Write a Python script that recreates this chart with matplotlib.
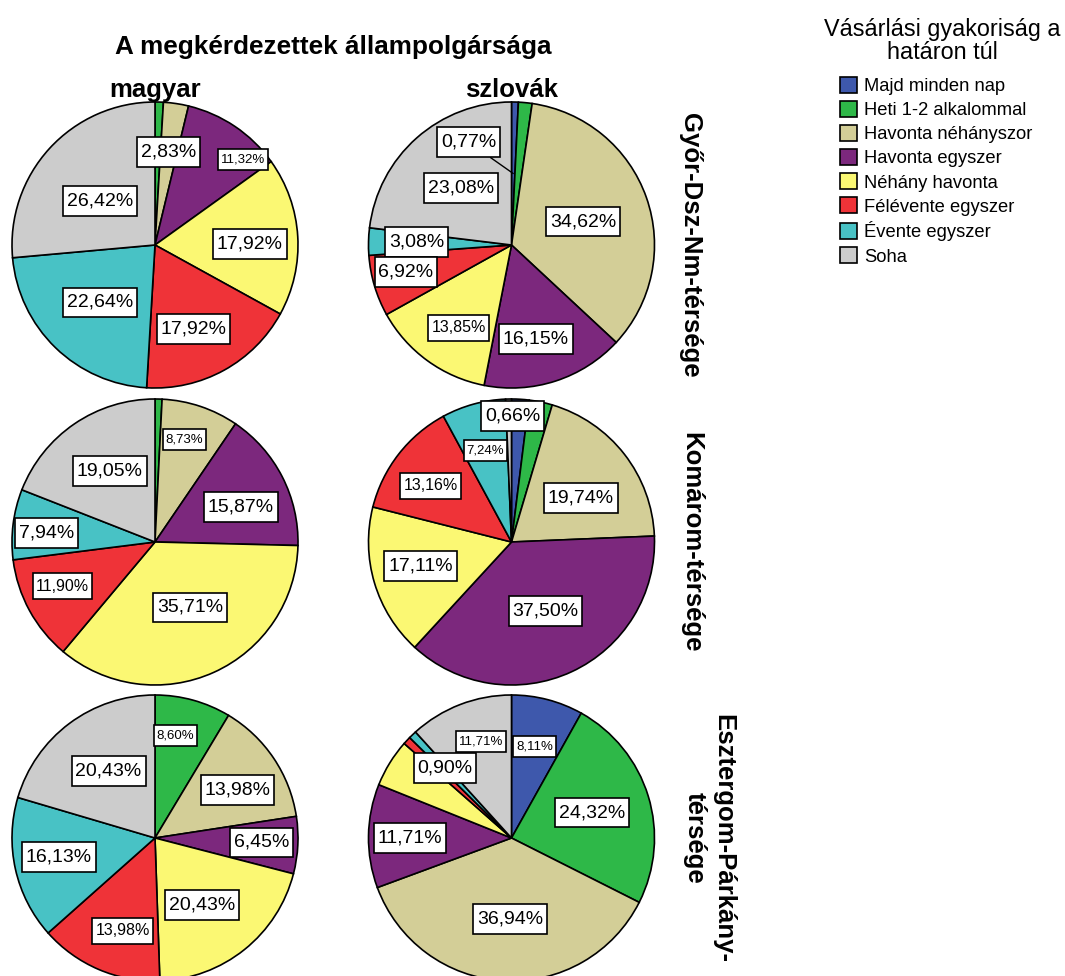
import numpy as np
import matplotlib
matplotlib.use("Agg")
import matplotlib.pyplot as plt
from matplotlib.patches import Patch
from matplotlib.path import Path

plt.rcParams['font.family'] = ['Liberation Sans', 'DejaVu Sans']

# Kategóriák és színek (SPSS alapszínek)
categories = ["Majd minden nap", "Heti 1-2 alkalommal", "Havonta néhányszor",
              "Havonta egyszer", "Néhány havonta", "Félévente egyszer",
              "Évente egyszer", "Soha"]
colors = ["#3e58ac", "#2eb848", "#d3ce97", "#7c287d",
          "#fbf873", "#ef3338", "#48c2c5", "#cccccc"]

columns = ["magyar", "szlovák"]
regions = ["Győr-Dsz-Nm-térsége", "Komárom-térsége", "Esztergom-Párkány-\ntérsége"]

# százalékok, a kategóriák sorrendjében
magyar_gyor = [0, 0.94, 2.83, 11.32, 17.92, 17.92, 22.64, 26.42]
szlovak_gyor = [0.77, 1.54, 34.62, 16.15, 13.85, 6.92, 3.08, 23.08]
magyar_komarom = [0, 0.79, 8.73, 15.87, 35.71, 11.90, 7.94, 19.05]
szlovak_komarom = [1.97, 2.63, 19.74, 37.50, 17.11, 13.16, 7.24, 0.66]
magyar_esztergom = [0, 8.60, 13.98, 6.45, 20.43, 13.98, 16.13, 20.43]
szlovak_esztergom = [8.11, 24.32, 36.94, 11.71, 5.41, 0.90, 0.90, 11.71]

data = [[magyar_gyor, szlovak_gyor],
        [magyar_komarom, szlovak_komarom],
        [magyar_esztergom, szlovak_esztergom]]

# címkék helye (a kör sugarához viszonyítva) és betűmérete: szelet -> (dx, dy, méret)
L, M, S = 14, 11.5, 9.5
label_layout = [
    [{2: (0.094, 0.650, L), 3: (0.615, 0.598, S), 4: (0.664, 0.007, L),
      5: (0.269, -0.587, L), 6: (-0.385, -0.402, L), 7: (-0.385, 0.308, L)},
     {0: (-0.301, 0.720, L), 7: (-0.350, 0.399, L), 2: (0.503, 0.164, L),
      6: (-0.664, 0.021, L), 5: (-0.738, -0.189, L), 4: (-0.371, -0.580, M),
      3: (0.171, -0.657, L)}],
    [{2: (0.206, 0.717, S), 7: (-0.315, 0.497, L), 3: (0.601, 0.245, L),
      6: (-0.759, 0.063, L), 5: (-0.647, -0.308, M), 4: (0.245, -0.458, L)},
     {7: (0.010, 0.881, L), 6: (-0.182, 0.640, S), 5: (-0.566, 0.392, M),
      2: (0.483, 0.308, L), 4: (-0.636, -0.168, L), 3: (0.238, -0.483, L)}],
    [{1: (0.143, 0.717, S), 7: (-0.325, 0.469, L), 2: (0.577, 0.336, L),
      3: (0.745, -0.031, L), 6: (-0.671, -0.133, L), 4: (0.332, -0.469, L),
      5: (-0.227, -0.650, M)},
     {7: (-0.213, 0.675, S), 0: (0.161, 0.640, S), 5: (-0.465, 0.490, L),
      1: (0.566, 0.178, L), 3: (-0.710, 0.0, L), 2: (-0.010, -0.566, L)}],
]
leader = {(0, 1): 0}  # 0,77% címke vezetővonallal


# magasabb, mint széles kitöltésű keret a címkékhez
def label_box(x0, y0, width, height, mutation_size):
    px, py = 0.2 * mutation_size, 0.33 * mutation_size
    x0, y0 = x0 - px, y0 - py
    x1, y1 = x0 + width + 2 * px, y0 + height + 2 * py
    return Path([(x0, y0), (x1, y0), (x1, y1), (x0, y1), (x0, y0)], closed=True)


W, H = 1065, 976
fig = plt.figure(figsize=(W / 100, H / 100), dpi=100)

r = 143
col_x = [155, 511.5]
row_y = [245, 542, 838]

for i in range(3):
    for j in range(2):
        cx, cy = col_x[j], row_y[i]
        ax = fig.add_axes([(cx - r) / W, 1 - (cy + r) / H, 2 * r / W, 2 * r / H])
        vals = data[i][j]
        wedges, _ = ax.pie(vals, colors=colors, startangle=90, counterclock=False,
                           radius=1, wedgeprops=dict(edgecolor="black", linewidth=1.2))
        for w in wedges:
            w.set_clip_on(False)
        ax.set_xlim(-1, 1)
        ax.set_ylim(-1, 1)
        ax.axis("off")
        for k, (dx, dy, fs) in label_layout[i][j].items():
            txt = f"{vals[k]:.2f}".replace(".", ",") + "%"
            bbox = dict(boxstyle=label_box, fc="white", ec="black", lw=1.2)
            if leader.get((i, j)) == k:
                mid = np.deg2rad(90 - (sum(vals[:k]) + vals[k] / 2) * 3.6)
                ax.annotate(txt, xy=(0.5 * np.cos(mid), 0.5 * np.sin(mid)), xytext=(dx, dy),
                            ha="center", va="center", fontsize=fs, bbox=bbox,
                            arrowprops=dict(arrowstyle="-", color="black", lw=1,
                                            shrinkA=0, shrinkB=0))
            else:
                ax.text(dx, dy, txt, ha="center", va="center", fontsize=fs, bbox=bbox)

# címek
fig.text(333 / W, 1 - 47 / H, "A megkérdezettek állampolgársága", ha="center", va="center",
         fontsize=18.8, fontweight="bold")
for j, name in enumerate(columns):
    fig.text(col_x[j] / W, 1 - 90 / H, name, ha="center", va="center",
             fontsize=18.5, fontweight="bold")
region_x = [690, 691, 709]
for i, name in enumerate(regions):
    fig.text(region_x[i] / W, 1 - row_y[i] / H, name, ha="center", va="center",
             rotation=-90, fontsize=18.5, fontweight="bold", multialignment="center")

# jelmagyarázat
fig.text(942 / W, 1 - 41 / H, "Vásárlási gyakoriság a\nhatáron túl", ha="center", va="center",
         fontsize=16.8, linespacing=0.95)
handles = [Patch(facecolor=c, edgecolor="black", linewidth=1.2) for c in colors]
fig.legend(handles, categories, loc="upper left", bbox_to_anchor=(840 / W, 1 - 77 / H),
           frameon=False, fontsize=13.2, handlelength=0.95, handleheight=0.95,
           handletextpad=0.35, labelspacing=0.32, borderpad=0, borderaxespad=0)

fig.savefig("out.png", dpi=100)
